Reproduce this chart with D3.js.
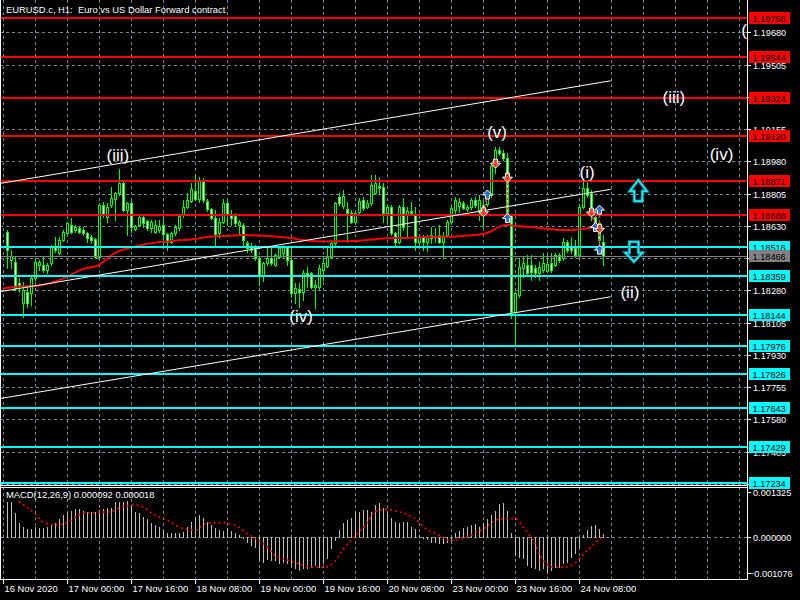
<!DOCTYPE html>
<html><head><meta charset="utf-8">
<script src="https://cdn.jsdelivr.net/npm/d3@7"></script>
<style>html,body{margin:0;padding:0;background:#000;}svg{display:block;}</style>
</head><body>
<svg id="c" width="800" height="600"></svg>
<script>
// ---------------- DATA ----------------
const chartTitle = "EURUSD.c, H1:  Euro vs US Dollar Forward contract";
const firstBar = 1; // bar index of first candle (bars are hourly, index 0 = 16 Nov 08:00)
const open = [1.18596,1.18444,1.18433,1.18319,1.18211,1.18271,1.18265,1.18347,1.18417,1.18417,
1.18390,1.18428,1.18515,1.18482,1.18553,1.18591,1.18634,1.18607,1.18618,1.18607,
1.18591,1.18569,1.18558,1.18460,1.18743,1.18677,1.18743,1.18775,1.18808,1.18862,
1.18715,1.18753,1.18612,1.18634,1.18677,1.18656,1.18618,1.18596,1.18607,1.18634,
1.18585,1.18542,1.18591,1.18618,1.18688,1.18732,1.18764,1.18819,1.18775,1.18878,
1.18764,1.18721,1.18672,1.18591,1.18650,1.18753,1.18688,1.18683,1.18634,1.18634,
1.18536,1.18515,1.18515,1.18455,1.18363,1.18428,1.18455,1.18417,1.18460,1.18482,
1.18515,1.18444,1.18265,1.18287,1.18271,1.18374,1.18374,1.18298,1.18298,1.18390,
1.18412,1.18460,1.18536,1.18786,1.18737,1.18721,1.18699,1.18650,1.18705,1.18770,
1.18732,1.18753,1.18808,1.18846,1.18840,1.18699,1.18732,1.18591,1.18542,1.18732,
1.18688,1.18710,1.18688,1.18542,1.18569,1.18542,1.18564,1.18574,1.18580,1.18542,
1.18580,1.18650,1.18715,1.18737,1.18753,1.18721,1.18732,1.18770,1.18715,1.18743,
1.18748,1.18797,1.18960,1.19041,1.19025,1.18998,1.18688,1.18162,1.18254,1.18401,
1.18417,1.18417,1.18401,1.18374,1.18390,1.18385,1.18428,1.18417,1.18471,1.18455,
1.18542,1.18515,1.18509,1.18471,1.18732,1.18835,1.18808,1.18677,1.18645,1.18542];
const high = [1.18607,1.18498,1.18460,1.18347,1.18325,1.18298,1.18352,1.18455,1.18444,1.18460,
1.18428,1.18526,1.18569,1.18569,1.18607,1.18650,1.18672,1.18634,1.18623,1.18623,
1.18596,1.18580,1.18564,1.18753,1.18759,1.18753,1.18840,1.18813,1.18938,1.18867,
1.18759,1.18770,1.18634,1.18683,1.18688,1.18661,1.18661,1.18661,1.18661,1.18667,
1.18591,1.18596,1.18634,1.18688,1.18770,1.18808,1.18862,1.18911,1.18894,1.18889,
1.18775,1.18726,1.18715,1.18672,1.18775,1.18770,1.18715,1.18699,1.18661,1.18645,
1.18547,1.18536,1.18526,1.18460,1.18433,1.18509,1.18509,1.18477,1.18515,1.18526,
1.18520,1.18515,1.18319,1.18319,1.18390,1.18406,1.18379,1.18336,1.18417,1.18460,
1.18515,1.18542,1.18759,1.18808,1.18824,1.18759,1.18715,1.18705,1.18781,1.18786,
1.18770,1.18905,1.18905,1.18889,1.18862,1.18743,1.18743,1.18596,1.18743,1.18781,
1.18732,1.18759,1.18732,1.18580,1.18580,1.18580,1.18623,1.18618,1.18634,1.18596,
1.18661,1.18743,1.18786,1.18781,1.18764,1.18743,1.18781,1.18786,1.18797,1.18770,
1.18824,1.18970,1.19057,1.19057,1.19041,1.19025,1.18694,1.18271,1.18455,1.18460,
1.18471,1.18471,1.18417,1.18433,1.18482,1.18471,1.18482,1.18482,1.18482,1.18564,
1.18553,1.18569,1.18553,1.18743,1.18878,1.18867,1.18824,1.18688,1.18650,1.18580];
const low = [1.18401,1.18401,1.18281,1.18271,1.18135,1.18189,1.18200,1.18336,1.18390,1.18379,
1.18374,1.18417,1.18488,1.18477,1.18547,1.18585,1.18591,1.18596,1.18591,1.18580,
1.18542,1.18536,1.18455,1.18455,1.18677,1.18650,1.18732,1.18661,1.18797,1.18710,
1.18580,1.18596,1.18607,1.18629,1.18623,1.18607,1.18596,1.18591,1.18596,1.18526,
1.18498,1.18536,1.18580,1.18607,1.18677,1.18726,1.18759,1.18770,1.18759,1.18759,
1.18710,1.18667,1.18520,1.18569,1.18645,1.18634,1.18634,1.18634,1.18580,1.18515,
1.18488,1.18488,1.18444,1.18309,1.18330,1.18417,1.18417,1.18412,1.18455,1.18460,
1.18417,1.18244,1.18211,1.18189,1.18227,1.18298,1.18292,1.18184,1.18281,1.18336,
1.18406,1.18455,1.18526,1.18743,1.18726,1.18542,1.18645,1.18645,1.18694,1.18715,
1.18726,1.18743,1.18802,1.18808,1.18650,1.18645,1.18580,1.18515,1.18536,1.18607,
1.18569,1.18688,1.18498,1.18526,1.18498,1.18493,1.18536,1.18542,1.18536,1.18455,
1.18569,1.18645,1.18699,1.18705,1.18721,1.18710,1.18721,1.18732,1.18661,1.18623,
1.18737,1.18786,1.18916,1.19014,1.18987,1.18683,1.18129,1.17994,1.18244,1.18352,
1.18363,1.18336,1.18352,1.18336,1.18379,1.18379,1.18379,1.18412,1.18433,1.18444,
1.18488,1.18482,1.18460,1.18460,1.18726,1.18786,1.18661,1.18607,1.18536,1.18417];
const close = [1.18498,1.18466,1.18292,1.18303,1.18281,1.18211,1.18347,1.18433,1.18433,1.18390,
1.18417,1.18515,1.18498,1.18553,1.18596,1.18645,1.18596,1.18623,1.18596,1.18591,
1.18564,1.18553,1.18460,1.18743,1.18688,1.18732,1.18781,1.18808,1.18862,1.18715,
1.18753,1.18623,1.18629,1.18677,1.18645,1.18618,1.18650,1.18634,1.18629,1.18585,
1.18542,1.18591,1.18623,1.18683,1.18732,1.18770,1.18829,1.18775,1.18878,1.18770,
1.18721,1.18672,1.18585,1.18650,1.18753,1.18688,1.18672,1.18645,1.18650,1.18553,
1.18509,1.18498,1.18455,1.18363,1.18428,1.18455,1.18428,1.18471,1.18509,1.18515,
1.18444,1.18265,1.18292,1.18271,1.18374,1.18363,1.18298,1.18309,1.18401,1.18428,
1.18460,1.18536,1.18753,1.18753,1.18791,1.18699,1.18650,1.18699,1.18764,1.18726,
1.18753,1.18851,1.18862,1.18835,1.18699,1.18732,1.18591,1.18542,1.18732,1.18623,
1.18710,1.18699,1.18542,1.18569,1.18542,1.18569,1.18580,1.18569,1.18542,1.18569,
1.18650,1.18726,1.18770,1.18759,1.18726,1.18732,1.18770,1.18743,1.18770,1.18726,
1.18813,1.18954,1.19041,1.19025,1.18998,1.18688,1.18162,1.18265,1.18406,1.18428,
1.18374,1.18379,1.18374,1.18406,1.18428,1.18423,1.18390,1.18471,1.18444,1.18542,
1.18498,1.18498,1.18471,1.18732,1.18835,1.18797,1.18705,1.18645,1.18553,1.18466];

// moving average (read at sample bars)
const maBars = [0,4,8,12,16,20,24,28,32,36,40,44,48,52,56,60,64,68,72,76,80,84,88,92,96,100,104,108,112,116,120,122,124,126,128,132,136,140,144,148,150];
const maValues = [1.18290,1.18300,1.18303,1.18319,1.18353,1.18395,1.18417,1.18482,1.18512,1.18531,1.18543,1.18551,1.18558,1.18572,1.18574,1.18580,1.18577,1.18572,1.18564,1.18550,1.18545,1.18546,1.18547,1.18555,1.18562,1.18564,1.18567,1.18571,1.18571,1.18577,1.18585,1.18599,1.18623,1.18634,1.18629,1.18623,1.18614,1.18607,1.18610,1.18622,1.18623];

// MACD histogram (bars 1..150)
const macdHist = [0.001047,0.001047,0.000701,0.000405,0.000306,0.000227,0.000227,0.000306,0.000277,0.000277,
0.000306,0.000375,0.000425,0.000534,0.000652,0.000751,0.000781,0.00083,0.00083,0.000781,
0.000731,0.000751,0.000731,0.0008,0.00082,0.00085,0.000869,0.001028,0.001047,0.001047,
0.001067,0.000948,0.000731,0.000701,0.000603,0.000524,0.000425,0.000356,0.000287,0.000207,
0.000128,0.000109,0.000109,0.000109,0.000158,0.000306,0.000454,0.000603,0.000652,0.000553,
0.000454,0.000356,0.000257,0.000207,0.000178,0.000257,0.000188,0.000128,0.000059,-0.00004,
-0.000138,-0.000237,-0.000287,-0.000682,-0.000731,-0.000662,-0.000682,-0.000682,-0.000781,-0.000731,
-0.000781,-0.00083,-0.000929,-0.000978,-0.000929,-0.000929,-0.000879,-0.00083,-0.000879,-0.000781,
-0.000632,-0.000336,-0.000089,0.000207,0.000405,0.000504,0.000553,0.000751,0.000751,0.0008,
0.0008,0.000751,0.000948,0.000998,0.00085,0.000701,0.000553,0.000454,0.000425,0.000435,
0.000435,0.000306,0.000227,0.000059,-0.00004,-0.000069,-0.000138,-0.000138,-0.000168,-0.000188,
-0.000138,-0.000089,0.000109,0.000188,0.000257,0.000306,0.000356,0.000375,0.000306,0.000405,
0.000524,0.000652,0.000771,0.000978,0.001018,0.000771,0.000128,-0.000534,-0.000583,-0.000632,
-0.00083,-0.000879,-0.000929,-0.000978,-0.000929,-0.001028,-0.000978,-0.000899,-0.000879,-0.000781,
-0.000731,-0.000603,-0.000484,-0.000287,0.000059,0.000207,0.000326,0.000356,0.000227,0.000092];
// MACD signal line (read at sample bars)
const signalBars = [4,8,10,13,16,20,24,27,30,33,35,38,41,45,48,51,54,58,61,63,66,68,72,76,80,83,85,88,91,93,96,99,103,106,109,112,116,120,124,128,130,133,135,138,140,143,145,148,150];
const signalValues = [0.001047,0.000701,0.000454,0.000356,0.000425,0.000701,0.000731,0.000751,0.000899,0.000948,0.000899,0.000652,0.000504,0.000257,0.000207,0.000405,0.000425,0.000356,0.000109,-0.00004,-0.000287,-0.000534,-0.000711,-0.00086,-0.000899,-0.000731,-0.000385,0.00001,0.000405,0.000751,0.00082,0.000751,0.000553,0.000227,0.000059,-0.000109,0.00001,0.000227,0.000524,0.000553,0.000306,-0.000188,-0.000682,-0.000899,-0.000899,-0.000781,-0.000534,-0.000188,0.000018];
const macdLabel = "MACD(12,26,9) 0.000092 0.000018";
const macdScaleLabels = [0.001325, 0, -0.001076];

// horizontal levels
const redLevels = [1.19756,1.19544,1.19324,1.19120,1.18871,1.18688];
const cyanLevels = [1.18516,1.18359,1.18144,1.17976,1.17826,1.17643,1.17429,1.17234];
const bidPrice = 1.18466;

// axis ticks (grid at every tick; labels fully covered by level boxes are not shown)
const priceTicks = [1.19680,1.19505,1.19330,1.19155,1.18980,1.18805,1.18630,1.18455,1.18280,1.18105,1.17930,1.17755,1.17580,1.17405,1.17230];
const priceTickHidden = [1.19330,1.18455,1.17230];
const timeTickBars = [0,16,32,48,64,80,96,112,128,144];
const timeTickLabels = ["16 Nov 2020","17 Nov 00:00","17 Nov 16:00","18 Nov 08:00","19 Nov 00:00","19 Nov 16:00","20 Nov 08:00","23 Nov 00:00","23 Nov 16:00","24 Nov 08:00"];

// trend lines (bar, price) -> (bar, price)
const trendStartBar = [0,0,0];
const trendStartPrice = [1.18862,1.18275,1.17695];
const trendEndBar = [152,152,152];
const trendEndPrice = [1.19417,1.18828,1.18245];

// Elliott wave labels
const waveText = ["(iii)","(iv)","(v)","(i)","(ii)","(iii)","(iv)","(v)"];
const waveBar = [28.8,74.6,123.6,146.1,156.8,167.8,179.7,187.1];
const wavePrice = [1.19014,1.18140,1.19139,1.18922,1.18270,1.19329,1.19019,1.19692];

// trade markers
const tradeBar = [120,121,123,126,126,147,148,149,149,149];
const tradePrice = [1.18706,1.18797,1.18970,1.18894,1.18670,1.18705,1.18621,1.18715,1.18616,1.18498];
const tradeType = ["sell","buy","sell","sell","buy","sell","buy","buy","sell","buy"];
const tradeLinks = [[0,1],[3,4],[5,6],[7,8],[8,9]];

// big signal arrows
const arrowBar = [158.9,157.8];
const arrowPrice = [1.18878,1.18435];
const arrowDir = ["up","down"];

// ---------------- DRAW ----------------
const svg = d3.select('#c');
const W = 800, H = 600, plotR = 747;
const mainBot = 485, macdTop = 487, macdBot = 579;
const FONT = '"Liberation Sans", Arial, sans-serif';
const gridCol = '#778899';

svg.append('rect').attr('width',W).attr('height',H).attr('fill','#000');

const x = d3.scaleLinear().domain([0,184]).range([2.7,738.7]);
const yP = d3.scaleLinear().domain([1.17230,1.19680]).range([483.8,32.3]);
const yM = d3.scaleLinear().domain([-0.001076,0.001325]).range([573.3,492.3]);
const px = v => Math.round(v);
const fmt5 = d3.format('.5f');
const fmt6 = d3.format('.6f');

const defs = svg.append('defs');
defs.append('clipPath').attr('id','clipMain').append('rect').attr('x',1).attr('y',0).attr('width',plotR-1).attr('height',mainBot);
defs.append('clipPath').attr('id','clipMacd').append('rect').attr('x',1).attr('y',macdTop+1).attr('width',plotR-1).attr('height',macdBot-macdTop-1);

const gMain = svg.append('g').attr('clip-path','url(#clipMain)');
const gMacd = svg.append('g').attr('clip-path','url(#clipMacd)');

// vertical grid
d3.range(0,185,8).forEach(k=>{
  const xx = px(x(k))+0.5;
  gMain.append('line').attr('x1',xx).attr('x2',xx).attr('y1',0).attr('y2',mainBot)
    .attr('stroke',gridCol).attr('stroke-dasharray','3,3');
  gMacd.append('line').attr('x1',xx).attr('x2',xx).attr('y1',macdTop).attr('y2',macdBot)
    .attr('stroke',gridCol).attr('stroke-dasharray','3,3');
});
// horizontal grid
priceTicks.forEach(p=>{
  const yy = px(yP(p))+0.5;
  gMain.append('line').attr('x1',0).attr('x2',plotR).attr('y1',yy).attr('y2',yy)
    .attr('stroke',gridCol).attr('stroke-dasharray','3,3');
});
gMacd.append('line').attr('x1',0).attr('x2',plotR).attr('y1',px(yM(0))+0.5).attr('y2',px(yM(0))+0.5)
  .attr('stroke',gridCol).attr('stroke-dasharray','3,3');

// candles
const bars = open.map((o,i)=>({k:i+firstBar,o,h:high[i],l:low[i],c:close[i]}));
const gC = gMain.append('g').attr('shape-rendering','crispEdges');
bars.forEach(b=>{
  const cx = px(x(b.k));
  const yH = px(yP(b.h)), yL = px(yP(b.l)), yO = px(yP(b.o)), yCl = px(yP(b.c));
  const top = Math.min(yO,yCl), bot = Math.max(yO,yCl);
  gC.append('rect').attr('x',cx).attr('y',yH).attr('width',1).attr('height',Math.max(1,yL-yH+1)).attr('fill','#00ff00');
  gC.append('rect').attr('x',cx-1).attr('y',top).attr('width',3).attr('height',bot-top+1).attr('fill','#00ff00');
  if (bot-top>=2) gC.append('rect').attr('x',cx).attr('y',top+1).attr('width',1).attr('height',bot-top-1)
      .attr('fill', b.c < b.o ? '#ffffff' : '#000000');
});

// moving average
const maData = maBars.map((k,i)=>({k,v:maValues[i]}));
gMain.append('path').datum(maData)
  .attr('d', d3.line().x(d=>x(d.k)).y(d=>yP(d.v)).curve(d3.curveMonotoneX))
  .attr('fill','none').attr('stroke','#ff0000').attr('stroke-width',2);

// level lines
redLevels.forEach(p=>{
  gMain.append('rect').attr('x',0).attr('y',px(yP(p))-1).attr('width',plotR).attr('height',2).attr('fill','#ff0000');
});
cyanLevels.forEach(p=>{
  gMain.append('rect').attr('x',0).attr('y',px(yP(p))-1).attr('width',plotR).attr('height',2).attr('fill','#00ffff');
});
gMain.append('line').attr('x1',0).attr('x2',plotR).attr('y1',px(yP(bidPrice))+0.5).attr('y2',px(yP(bidPrice))+0.5)
  .attr('stroke','#808080');

// trend lines (extended to the left edge of the plot)
trendStartBar.forEach((k,i)=>{
  const x1 = x(k), y1 = yP(trendStartPrice[i]), x2 = x(trendEndBar[i]), y2 = yP(trendEndPrice[i]);
  const slope = (y2-y1)/(x2-x1);
  gMain.append('line').attr('x1',0).attr('y1',y1 - slope*x1).attr('x2',x2).attr('y2',y2)
    .attr('stroke','#ffffff').attr('stroke-width',1);
});

// trade links
tradeLinks.forEach(([a,b])=>{
  gMain.append('line').attr('x1',px(x(tradeBar[a]))+0.5).attr('y1',yP(tradePrice[a]))
    .attr('x2',px(x(tradeBar[b]))+0.5).attr('y2',yP(tradePrice[b]))
    .attr('stroke','#ff3b2f').attr('stroke-width',1.5).attr('stroke-dasharray','3,2');
});
// trade markers
tradeBar.forEach((k,i)=>{
  const cx = px(x(k))+0.5, cy = yP(tradePrice[i]);
  const s = tradeType[i]==='buy' ? 1 : -1;
  const d = `M${cx},${cy-5*s}L${cx+5},${cy}L${cx+2},${cy}L${cx+2},${cy+4*s}L${cx-2},${cy+4*s}L${cx-2},${cy}L${cx-5},${cy}Z`;
  gMain.append('path').attr('d',d).attr('fill', tradeType[i]==='buy' ? '#2a6fc9' : '#e8452c')
    .attr('stroke','#ffffff').attr('stroke-width',1);
});

// big cyan arrows
arrowBar.forEach((k,i)=>{
  const tx = x(k), ty = yP(arrowPrice[i]);
  let d;
  if (arrowDir[i]==='up') {
    d = `M${tx},${ty}L${tx+8.5},${ty+11}L${tx+4},${ty+11}L${tx+4},${ty+21}L${tx-4},${ty+21}L${tx-4},${ty+11}L${tx-8.5},${ty+11}Z`;
  } else {
    d = `M${tx},${ty}L${tx+8.5},${ty-9}L${tx+4.5},${ty-9}L${tx+4.5},${ty-20}L${tx-4.5},${ty-20}L${tx-4.5},${ty-9}L${tx-8.5},${ty-9}Z`;
  }
  gMain.append('path').attr('d',d).attr('fill','none').attr('stroke','#008f9f').attr('stroke-width',3.2);
  gMain.append('path').attr('d',d).attr('fill','none').attr('stroke','#22e6f2').attr('stroke-width',1.6);
});

// wave labels
waveText.forEach((t,i)=>{
  gMain.append('text').attr('x',x(waveBar[i])).attr('y',yP(wavePrice[i])).attr('dy','0.35em')
    .attr('text-anchor','middle').attr('fill','#ffffff')
    .attr('font-family',FONT).attr('font-size','17px').text(t);
});

// title
svg.append('text').attr('x',6).attr('y',13).attr('fill','#ffffff')
  .attr('font-family',FONT).attr('font-size','9.4px').style('white-space','pre').text(chartTitle);

// MACD histogram
const gH = gMacd.append('g').attr('shape-rendering','crispEdges');
macdHist.forEach((v,i)=>{
  const cx = px(x(i+firstBar));
  const y0 = px(yM(0)), y1 = px(yM(v));
  gH.append('rect').attr('x',cx).attr('y',Math.min(y0,y1)).attr('width',1).attr('height',Math.abs(y1-y0)+1).attr('fill','#c0c0c0');
});
const sigData = signalBars.map((k,i)=>({k,v:signalValues[i]}));
gMacd.append('path').datum(sigData)
  .attr('d', d3.line().x(d=>x(d.k)).y(d=>yM(d.v)).curve(d3.curveMonotoneX))
  .attr('fill','none').attr('stroke','#ff0000').attr('stroke-width',1.6).attr('stroke-dasharray','2,3');
svg.append('text').attr('x',6).attr('y',498).attr('fill','#ffffff')
  .attr('font-family',FONT).attr('font-size','9.4px').text(macdLabel);

// frames
const fr = svg.append('g').attr('stroke','#ffffff').attr('fill','none').attr('shape-rendering','crispEdges');
fr.append('line').attr('x1',0.5).attr('x2',0.5).attr('y1',0).attr('y2',macdBot);
fr.append('line').attr('x1',plotR+0.5).attr('x2',plotR+0.5).attr('y1',0).attr('y2',macdBot+1);
fr.append('line').attr('x1',0).attr('x2',plotR+1).attr('y1',mainBot+0.5).attr('y2',mainBot+0.5);
fr.append('line').attr('x1',0).attr('x2',plotR+1).attr('y1',macdTop+0.5).attr('y2',macdTop+0.5);
fr.append('line').attr('x1',0).attr('x2',plotR+1).attr('y1',macdBot+0.5).attr('y2',macdBot+0.5);

// price axis ticks and labels
const gAx = svg.append('g');
priceTicks.forEach(p=>{
  const yy = px(yP(p))+0.5;
  gAx.append('line').attr('x1',plotR).attr('x2',plotR+4).attr('y1',yy).attr('y2',yy).attr('stroke','#fff');
  if (priceTickHidden.indexOf(p) < 0)
    gAx.append('text').attr('x',753).attr('y',yy+3.5).attr('fill','#fff')
      .attr('font-family',FONT).attr('font-size','9.2px').text(fmt5(p));
});
function levelLabel(p, bg, fg){
  const yy = px(yP(p));
  gAx.append('rect').attr('x',749).attr('y',yy-6).attr('width',41).attr('height',12).attr('fill',bg);
  gAx.append('text').attr('x',752.5).attr('y',yy+3.5).attr('fill',fg)
    .attr('font-family',FONT).attr('font-size','9.2px').text(fmt5(p));
}
redLevels.forEach(p=>levelLabel(p,'#ff0000','#000000'));
cyanLevels.forEach(p=>levelLabel(p,'#00ffff','#000000'));
levelLabel(bidPrice,'#808080','#000000');

// MACD axis labels
macdScaleLabels.forEach(v=>{
  const yy = px(yM(v))+0.5;
  gAx.append('line').attr('x1',plotR).attr('x2',plotR+4).attr('y1',yy).attr('y2',yy).attr('stroke','#fff');
  gAx.append('text').attr('x', v<0 ? 749 : 753).attr('y',yy+3.5).attr('fill','#fff')
    .attr('font-family',FONT).attr('font-size','9.2px').text(fmt6(v));
});

// time axis
timeTickBars.forEach((k,i)=>{
  const xx = px(x(k))+0.5;
  gAx.append('line').attr('x1',xx).attr('x2',xx).attr('y1',macdBot).attr('y2',macdBot+5).attr('stroke','#fff');
  gAx.append('text').attr('x',xx+1).attr('y',592).attr('fill','#fff')
    .attr('font-family',FONT).attr('font-size','9.4px').text(timeTickLabels[i]);
});
</script>
</body></html>
